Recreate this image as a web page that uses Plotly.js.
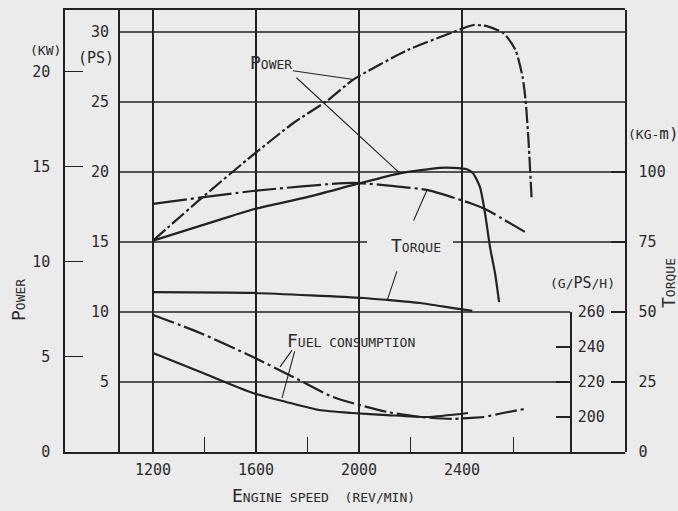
<!DOCTYPE html>
<html>
<head>
<meta charset="utf-8">
<script src="https://cdn.plot.ly/plotly-3.0.1.min.js"></script>
<style>html,body{margin:0;padding:0;background:#ebebeb;}</style>
</head>
<body>
<div id="chart" style="width:678px;height:511px"></div>
<script>
// ---------- data ----------
const xTickVals   = [1200, 1600, 2000, 2400];
const xMinorTicks = [1400, 1800, 2200, 2600];
const psTicks     = [5, 10, 15, 20, 25, 30];
const kwTicks     = [0, 5, 10, 15, 20];
const torqueTicks = [0, 25, 50, 75, 100];
const fuelTicks   = [200, 220, 240, 260];

// Power (PS) - dash-dot curve
const powerDashRpm = [1200, 1386, 1567, 1745, 1877, 1978, 2188, 2367, 2445, 2499, 2562, 2608, 2635, 2647, 2658, 2670];
const powerDashPS  = [15.1, 18.1, 20.9, 23.5, 25.1, 26.6, 28.7, 30.0, 30.5, 30.4, 29.9, 28.7, 26.8, 25.1, 22.3, 18.2];
// Power (PS) - solid curve
const powerSolidRpm = [1200, 1460, 1604, 1798, 2004, 2159, 2314, 2365, 2419, 2443, 2470, 2489, 2509, 2528, 2544];
const powerSolidPS  = [15.1, 16.6, 17.4, 18.2, 19.2, 19.9, 20.3, 20.3, 20.2, 19.9, 18.9, 17.1, 14.6, 12.8, 10.7];
// Torque (kg-m) - dash-dot curve
const torqueDashRpm = [1200, 1588, 1977, 2171, 2264, 2431, 2497, 2644];
const torqueDashVal = [88.6, 93.2, 96.1, 94.6, 93.6, 88.9, 86.4, 78.6];
// Torque (kg-m) - solid curve
const torqueSolidRpm = [1200, 1588, 2017, 2110, 2238, 2366, 2440];
const torqueSolidVal = [57.1, 56.8, 55.0, 54.3, 53.2, 51.4, 50.4];
// Fuel consumption (g/PS/h) - dash-dot curve
const fuelDashRpm = [1200, 1383, 1588, 1744, 1899, 2109, 2237, 2365, 2421, 2483, 2559, 2644];
const fuelDashVal = [258.3, 248.0, 234.3, 222.9, 211.4, 202.9, 200.0, 198.9, 199.4, 200.0, 202.3, 204.6];
// Fuel consumption (g/PS/h) - solid curve
const fuelSolidRpm = [1200, 1394, 1588, 1717, 1845, 1973, 2109, 2264, 2423];
const fuelSolidVal = [236.6, 225.1, 213.7, 208.6, 204.0, 202.3, 201.1, 200.0, 202.3];

// ---------- layout constants ----------
const INK = '#222222';
const TXT = '#2a2a2a';
const X_RANGE = [858, 3033];
const PS_MAX = 31.57;
const PS_AXIS_RPM = 1064;
const FUEL_AXIS_RPM = 2820;
const KW_PER_PS = 1 / 1.3596;
const TORQUE_PER_PS = 5;
const FUEL_TOP = 260;

const L = 65, T = 10, W = 560, H = 442;
const frac = r => (r - X_RANGE[0]) / (X_RANGE[1] - X_RANGE[0]);
const PX = x => (x - L) / W;
const PY = y => (T + H - y) / H;

const MONO = 'DejaVu Sans Mono';
const sm = s => `<span style="font-size:13px">${s}</span>`;

function curve(x, y, yaxis, dash) {
  return {x, y, yaxis, type: 'scatter', mode: 'lines', hoverinfo: 'skip', showlegend: false,
    line: {color: INK, width: 2.2, dash, shape: 'spline', smoothing: 0.6}};
}

const traces = [
  // registers the kW axis (an axis with no trace is dropped by Plotly)
  {x: [], y: [], yaxis: 'y', type: 'scatter', mode: 'lines', hoverinfo: 'skip', showlegend: false},
  curve(powerDashRpm, powerDashPS, 'y2', '16px,3px,3px,3px'),
  curve(powerSolidRpm, powerSolidPS, 'y2', 'solid'),
  curve(torqueDashRpm, torqueDashVal, 'y3', '34px,4px,3px,4px'),
  curve(torqueSolidRpm, torqueSolidVal, 'y3', 'solid'),
  curve(fuelDashRpm, fuelDashVal, 'y4', '22px,4px,3px,4px'),
  curve(fuelSolidRpm, fuelSolidVal, 'y4', 'solid')
];

// horizontal grid lines on the PS scale
const shapes = [];
function hline(v, x0, x1) {
  shapes.push({type: 'line', xref: 'x', yref: 'y2', x0, x1, y0: v, y1: v,
    line: {color: INK, width: 1.3}});
}
psTicks.forEach(v => {
  if (v <= 10) hline(v, PS_AXIS_RPM, FUEL_AXIS_RPM);
  else if (v === 15) { hline(v, PS_AXIS_RPM, 2031); hline(v, 2365, X_RANGE[1]); }
  else hline(v, PS_AXIS_RPM, X_RANGE[1]);
});

const annotations = [];
function label(text, x, y, opts) {
  annotations.push(Object.assign({xref: 'paper', yref: 'paper', x: PX(x), y: PY(y), text,
    showarrow: false, xanchor: 'center', yanchor: 'middle',
    font: {family: MONO, size: 18, color: TXT}}, opts || {}));
}
label('P' + sm('OWER'), 271, 62);
label('T' + sm('ORQUE'), 416, 245);
label('F' + sm('UEL CONSUMPTION'), 285, 340, {xanchor: 'left'});
label('E' + sm('NGINE SPEED  (REV/MIN)'), 323, 495);
label('P' + sm('OWER'), 18, 300, {textangle: -90});
label('T' + sm('ORQUE'), 668, 283, {textangle: -90});
label(sm('(KW)'), 45, 50);
label('(PS)', 96, 58, {font: {family: MONO, size: 15, color: TXT}});
label(sm('(KG-') + 'm)', 653, 133, {font: {family: MONO, size: 16, color: TXT}});
label(sm('(G/') + '<span style="font-size:15px">PS</span>' + sm('/H)'), 582, 283);

// leader lines
function leader(x, y, yref, ax, ay) {
  annotations.push({x, y, xref: 'x', yref, ax, ay, text: '', showarrow: true,
    arrowhead: 0, arrowwidth: 1.1, arrowcolor: INK, standoff: 0, startstandoff: 0});
}
leader(powerDashRpm[5], powerDashPS[5], 'y2', -62, -9);
leader(powerSolidRpm[5], powerSolidPS[5], 'y2', -105, -97);
leader(torqueDashRpm[4], torqueDashVal[4], 'y3', -14, 32);
leader(torqueSolidRpm[3], torqueSolidVal[3], 'y3', 10, -30);
leader(1693, 228.6, 'y4', 13, -18);
leader(1701, 210.9, 'y4', 13, -48);

const tickFont = {family: MONO, size: 15, color: TXT};
const layout = {
  width: 678, height: 511,
  margin: {l: L, r: 678 - L - W, t: T, b: 511 - T - H, pad: 0},
  paper_bgcolor: '#ebebeb', plot_bgcolor: 'rgba(0,0,0,0)',
  font: tickFont, showlegend: false,
  xaxis: {range: X_RANGE, tickvals: xTickVals, ticks: '', showgrid: true, gridcolor: INK, gridwidth: 1.3,
    showline: true, mirror: true, linecolor: INK, linewidth: 1.6, zeroline: false, ticklabelstandoff: 3,
    tickfont: tickFont,
    minor: {tickvals: xMinorTicks, ticks: 'inside', ticklen: 15, tickcolor: INK, tickwidth: 1.3, showgrid: false}},
  yaxis: {range: [0, PS_MAX * KW_PER_PS], side: 'left',
    tickvals: kwTicks, ticks: 'inside', ticklen: 18, tickcolor: INK, tickwidth: 1.3, showline: true,
    linecolor: INK, linewidth: 1.6, showgrid: false, zeroline: false, ticklabelstandoff: 10, tickfont: tickFont},
  yaxis2: {overlaying: 'y', range: [0, PS_MAX], anchor: 'free', position: frac(PS_AXIS_RPM), side: 'left',
    tickvals: psTicks, ticks: '', showgrid: false, showline: true, linecolor: INK, linewidth: 1.5,
    zeroline: false, ticklabelstandoff: 6, tickfont: tickFont},
  yaxis3: {overlaying: 'y', range: [0, PS_MAX * TORQUE_PER_PS], anchor: 'free', position: 1, side: 'right',
    tickvals: torqueTicks, ticks: 'inside', ticklen: 14, tickcolor: INK, tickwidth: 1.3, showline: true,
    linecolor: INK, linewidth: 1.6, showgrid: false, zeroline: false, ticklabelstandoff: 9, tickfont: tickFont},
  yaxis4: {domain: [0, 10 / PS_MAX], range: [180, FUEL_TOP], anchor: 'free', position: frac(FUEL_AXIS_RPM),
    side: 'right', tickvals: fuelTicks, ticks: 'inside', ticklen: 14, tickcolor: INK, tickwidth: 1.3,
    showline: true, linecolor: INK, linewidth: 1.5, showgrid: false, zeroline: false, ticklabelstandoff: 3,
    tickfont: tickFont},
  shapes, annotations
};

Plotly.newPlot('chart', traces, layout, {staticPlot: true, displayModeBar: false});
</script>
</body>
</html>
